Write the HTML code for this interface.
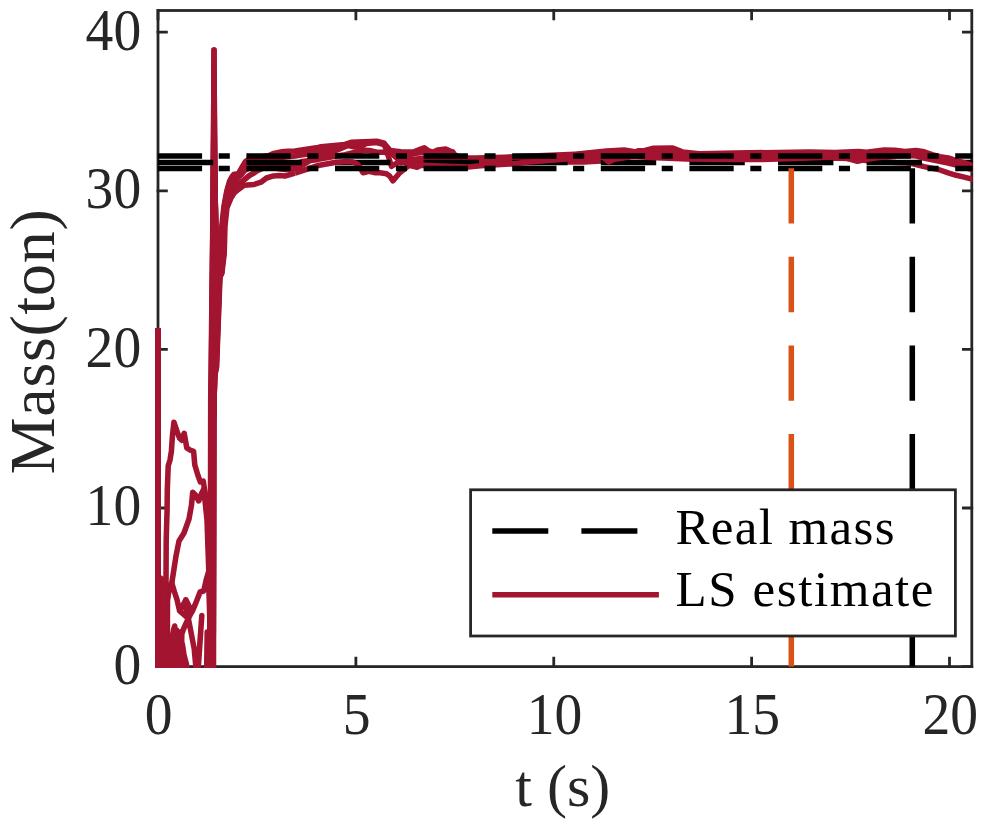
<!DOCTYPE html>
<html><head><meta charset="utf-8"><title>Mass estimate</title>
<style>html,body{margin:0;padding:0;background:#fff;overflow:hidden}svg{display:block}text{font-family:"Liberation Serif",serif;}</style></head><body>
<svg width="997" height="819" viewBox="0 0 997 819">
<rect x="0" y="0" width="997" height="819" fill="#ffffff"/>
<defs><clipPath id="ax"><rect x="154.80" y="9.10" width="817.80" height="659.00"/></clipPath></defs>
<g stroke="#262626" stroke-width="2.78" fill="none" stroke-linecap="square">
<rect x="158.00" y="10.50" width="813.80" height="656.10"/>
<path d="M158.00 666.60 v-8.40 M158.00 10.50 v8.40"/>
<path d="M355.88 666.60 v-8.40 M355.88 10.50 v8.40"/>
<path d="M553.75 666.60 v-8.40 M553.75 10.50 v8.40"/>
<path d="M751.62 666.60 v-8.40 M751.62 10.50 v8.40"/>
<path d="M949.50 666.60 v-8.40 M949.50 10.50 v8.40"/>
<path d="M158.00 666.60 h8.40 M971.80 666.60 h-8.40"/>
<path d="M158.00 508.00 h8.40 M971.80 508.00 h-8.40"/>
<path d="M158.00 349.40 h8.40 M971.80 349.40 h-8.40"/>
<path d="M158.00 190.80 h8.40 M971.80 190.80 h-8.40"/>
<path d="M158.00 32.20 h8.40 M971.80 32.20 h-8.40"/>
</g>
<g clip-path="url(#ax)" fill="none" stroke-linejoin="round">
<path d="M157.9 328.2 L158.0 675.0 L161.6 582.0 L164.4 675.0 L166.5 590.0 L167.2 675.0 L167.5 600.0 L169.5 586.0 L171.8 583.0 L176.0 556.0 L179.0 541.0 L184.0 533.0 L189.0 519.0 L191.5 505.0 L192.7 492.3 L195.5 495.0 L198.7 500.9 L201.3 494.0 L203.8 488.9 L207.0 520.0 L209.8 600.0 L210.6 675.0 L211.1 400.0 L213.4 175.0 L214.0 80.0 L214.7 170.0 L215.8 234.0 L217.3 278.0 L215.6 335.0 L213.6 420.0 L213.2 675.0 L213.2 675.0 L213.4 430.0 L214.1 378.0 L216.3 367.0 L219.7 277.0 L221.6 273.0 L223.6 254.0 L224.3 226.0 L226.0 206.0 L229.5 194.0 L234.0 186.5 L238.5 183.5 L243.9 180.0 L249.4 175.5 L254.3 172.8 L256.7 171.0 L262.9 168.3 L275.0 167.5 L295.0 164.0 L302.0 161.5 L318.2 159.4 L335.0 156.3 L345.0 154.8 L355.0 152.3 L365.0 150.3 L369.4 150.5 L376.7 152.3 L384.0 152.3 L392.0 153.5 L397.0 158.0 L401.0 163.0 L407.0 162.0 L424.0 161.0 L455.0 162.0 L468.0 162.5 L505.0 163.0 L560.0 162.1 L584.0 162.0 L601.0 161.0 L615.0 159.0 L633.0 156.0 L655.0 155.5 L690.0 156.5 L735.0 157.0 L800.0 156.0 L850.0 155.5 L890.0 153.5 L915.0 153.0 L930.0 157.0 L948.0 160.5 L964.0 164.8 L975.0 168.3" stroke="#A2142F" stroke-width="5.540" stroke-linecap="butt"/>
<path d="M157.9 328.2 L158.0 675.0 L160.0 675.0 L162.4 580.0 L165.0 675.0 L166.0 675.0 L167.0 600.0 L169.5 588.0 L171.8 583.0 L174.5 592.0 L177.0 599.6 L179.6 611.0 L188.3 618.3 L179.6 611.0 L182.5 606.0 L185.9 599.8 L186.6 612.0 L185.9 599.8 L189.0 606.0 L192.3 611.0 L195.0 605.0 L197.1 599.8 L200.1 592.0 L203.7 591.0 L206.2 579.8 L208.5 572.0 L209.8 620.0 L211.0 675.0 L211.5 400.0 L213.4 175.0 L214.0 110.0 L214.7 170.0 L215.8 234.0 L217.3 278.0 L215.6 335.0 L213.6 420.0 L213.2 675.0 L213.0 675.0 L213.2 430.0 L213.9 378.0 L216.1 367.0 L219.5 277.0 L221.4 273.0 L223.0 254.0 L223.6 226.0 L225.2 206.0 L228.5 190.0 L232.5 182.0 L237.5 178.0 L241.0 175.0 L244.5 170.5 L250.0 167.5 L256.0 166.0 L262.0 166.0 L270.0 167.5 L285.0 169.5 L295.0 168.5 L300.0 166.5 L310.0 160.5 L318.0 158.0 L335.0 151.0 L348.0 145.5 L355.0 147.0 L361.0 146.5 L366.0 143.5 L376.7 142.5 L384.0 144.5 L389.0 151.0 L395.0 156.5 L401.0 160.0 L407.0 159.5 L424.0 158.5 L455.0 160.0 L468.0 161.0 L505.0 161.0 L575.0 158.0 L607.0 156.0 L625.0 155.0 L650.0 154.0 L690.0 156.0 L735.0 156.5 L800.0 157.5 L850.0 158.5 L866.0 160.5 L880.0 161.5 L896.0 162.5 L905.0 162.7 L911.0 163.2 L920.0 165.5 L924.0 166.6 L938.5 169.5 L948.2 172.9 L956.2 175.3 L964.2 177.1 L975.0 179.8" stroke="#A2142F" stroke-width="5.540" stroke-linecap="butt"/>
<path d="M157.9 328.2 L158.0 675.0 L160.6 578.0 L163.2 675.0 L165.6 675.0 L166.2 540.0 L167.1 509.4 L167.3 490.0 L168.2 466.0 L170.0 460.0 L171.4 451.3 L172.5 435.0 L173.9 422.2 L177.4 432.5 L179.5 438.0 L181.6 440.2 L184.2 433.3 L186.8 447.9 L190.0 450.0 L193.6 451.3 L194.8 465.0 L197.9 475.2 L200.4 482.0 L203.3 481.2 L204.7 490.6 L206.4 506.0 L208.1 523.0 L209.6 580.0 L210.2 675.0 L210.7 400.0 L213.4 175.0 L214.0 50.0 L214.7 170.0 L215.8 234.0 L217.3 278.0 L215.6 335.0 L213.6 420.0 L213.2 675.0 L213.5 675.0 L213.7 430.0 L214.4 378.0 L216.6 367.0 L220.0 277.0 L221.9 273.0 L224.2 254.0 L225.0 226.0 L226.9 208.0 L231.0 198.0 L234.2 193.0 L238.7 189.2 L244.0 185.3 L254.3 184.4 L261.0 182.2 L266.5 178.0 L273.5 175.9 L280.0 175.6 L285.0 176.0 L295.0 173.2" stroke="#A2142F" stroke-width="5.540" stroke-linecap="butt"/>
<path d="M157.9 328.2 L158.0 675.0 L159.0 675.0 L172.6 675.0 L173.2 638.0 L174.2 675.0 L175.2 675.0 L176.5 630.0 L177.5 675.0 L179.8 675.0 L180.5 640.0 L182.5 645.0 L184.0 655.0 L186.4 664.0 L187.0 675.0 L209.0 675.0 L212.4 675.0 L212.9 400.0 L213.4 175.0 L214.0 50.0 L214.7 170.0 L215.8 234.0 L217.3 278.0 L215.6 335.0 L213.6 420.0 L213.2 675.0 L212.6 675.0 L212.8 430.0 L213.5 378.0 L215.7 367.0 L219.1 277.0 L221.0 273.0 L221.0 254.0 L221.8 226.0 L223.9 206.5 L226.5 192.5 L229.6 181.0 L231.0 178.5 L232.5 176.0 L234.0 174.2 L236.5 174.2 L238.5 173.5 L240.5 170.0 L242.5 166.4 L245.5 161.5 L248.0 159.8 L256.0 158.0 L269.0 155.5 L273.8 153.4 L282.0 151.8 L288.0 151.2 L295.0 150.9 L318.0 147.4 L321.0 146.8 L345.0 144.4 L351.1 142.3 L376.7 141.3 L384.1 143.2 L390.2 150.5 L395.0 151.1 L401.0 151.7 L413.3 152.0 L419.4 149.6 L424.3 147.8 L428.0 150.5 L432.9 152.3 L437.7 149.9 L445.7 149.0 L450.0 151.1 L452.9 152.0 L455.0 155.0 L460.0 157.0 L468.2 157.8 L475.5 158.1 L505.0 157.2 L575.0 154.3" stroke="#A2142F" stroke-width="5.540" stroke-linecap="butt"/>
<path d="M157.9 328.2 L158.0 675.0 L159.2 675.0 L170.5 675.0 L171.8 640.0 L173.5 630.0 L174.7 626.0 L176.5 675.0 L178.0 675.0 L179.0 632.0 L180.8 675.0 L181.2 675.0 L181.8 634.0 L183.5 629.0 L188.3 618.3 L192.3 611.0 L188.3 618.3 L194.2 648.7 L196.6 675.0 L197.6 675.0 L201.8 615.5 L197.8 675.0 L206.6 675.0 L207.2 632.0 L207.8 675.0 L209.6 675.0 L211.4 675.0 L211.9 400.0 L213.4 175.0 L214.0 140.0 L214.7 170.0 L215.8 234.0 L217.3 278.0 L215.6 335.0 L213.6 420.0 L213.2 675.0 L212.8 675.0 L213.0 430.0 L213.7 378.0 L215.9 367.0 L219.3 277.0 L221.2 273.0 L221.6 254.0 L222.4 226.0 L224.5 206.0 L227.6 189.0 L231.5 178.5 L236.5 175.5 L240.5 171.0 L243.5 166.0 L246.5 162.5 L250.0 161.5 L258.0 160.0 L270.0 159.0 L285.0 157.0 L295.0 156.0 L318.2 152.3 L335.0 148.0 L348.1 144.7 L360.0 143.0 L366.0 142.5 L376.7 141.8 L384.0 143.5 L388.0 155.0 L391.4 166.3 L396.0 163.5 L401.0 162.0 L407.0 157.0 L413.0 153.5 L424.0 152.5 L440.0 153.0 L452.0 153.5 L457.0 157.5 L468.0 160.0 L505.0 159.5 L575.0 156.5" stroke="#A2142F" stroke-width="5.540" stroke-linecap="butt"/>
<path d="M157.80 162.55 H973.80" stroke="#000" stroke-width="5.540" stroke-dasharray="55.4 33.2"/>
<path d="M295.0 173.2 L318.2 165.5 L334.7 162.5 L347.0 161.5 L353.0 162.0 L357.2 163.9 L360.3 167.9 L363.0 172.7 L369.0 171.2 L375.5 172.7 L380.0 172.7 L386.5 173.7 L389.6 176.0 L393.0 180.8 L397.0 176.0 L400.0 172.5 L405.0 168.5 L409.0 165.3 L413.3 166.3 L417.0 167.2 L420.6 165.5 L425.0 165.3 L440.0 166.0 L455.0 166.4 L468.2 167.0 L475.5 166.3 L484.0 165.4 L505.0 164.2 L512.0 163.9 L526.0 162.3 L567.5 159.0 L601.0 156.5 L604.0 158.0 L608.7 162.0 L614.3 159.2 L624.2 157.8 L632.6 156.4 L655.9 157.7 L687.2 158.9 L735.0 159.5 L760.0 159.5 L802.0 158.3 L832.3 157.1 L835.0 156.8 L844.0 156.8 L847.6 158.5 L854.0 160.3 L857.5 161.3 L861.7 160.3 L866.6 159.2 L877.0 157.8 L887.7 156.8 L894.7 156.1 L911.2 155.5 L916.0 155.9 L922.5 157.9 L932.1 159.9 L948.2 163.1 L964.2 167.0 L975.0 170.8" stroke="#A2142F" stroke-width="5.540" stroke-linecap="butt"/>
<path d="M575.0 154.3 L606.6 151.1 L624.2 150.1 L633.3 151.5 L634.7 152.5 L638.2 150.8 L645.0 150.4 L653.5 148.3 L672.8 148.0 L682.4 151.9 L699.3 153.7 L735.0 153.1 L809.4 151.9 L835.0 152.5 L858.2 151.5 L866.6 152.2 L884.2 150.1 L894.7 150.3 L905.0 151.5 L916.0 150.6 L924.1 151.8 L932.1 154.7 L940.1 156.7 L948.2 157.9 L956.2 160.7 L964.2 162.7 L975.0 166.2" stroke="#A2142F" stroke-width="5.540" stroke-linecap="butt"/>
<path d="M575.0 156.5 L607.0 153.5 L625.0 152.5 L650.0 151.5 L672.0 150.5 L683.0 153.5 L700.0 155.0 L735.0 155.0 L809.0 154.0 L850.0 153.8 L885.0 152.5 L905.0 153.5 L916.0 153.0 L924.0 154.5 L932.0 157.0 L948.0 160.5 L964.0 164.8 L975.0 168.3" stroke="#A2142F" stroke-width="5.540" stroke-linecap="butt"/>
<path d="M157.80 156.00 H973.80" stroke="#000" stroke-width="5.540" stroke-dasharray="44.3 16.6 11.1 16.6"/>
<path d="M157.80 168.40 H973.80" stroke="#000" stroke-width="5.540" stroke-dasharray="44.3 16.6 11.1 16.6"/>
<path d="M791.3 666.60 V168.3" stroke="#D95319" stroke-width="5.540" stroke-dasharray="55.4 33.2"/>
<path d="M912.3 666.60 V168.3" stroke="#000" stroke-width="5.540" stroke-dasharray="55.4 33.2"/>
</g>
<g fill="#262626" font-size="55.6px">
<text transform="translate(158.70 734.3) scale(1 1.05)" text-anchor="middle">0</text>
<text transform="translate(356.57 734.3) scale(1 1.05)" text-anchor="middle">5</text>
<text transform="translate(554.45 734.3) scale(1 1.05)" text-anchor="middle">10</text>
<text transform="translate(752.33 734.3) scale(1 1.05)" text-anchor="middle">15</text>
<text transform="translate(950.20 734.3) scale(1 1.05)" text-anchor="middle">20</text>
<text transform="translate(141.2 683.90) scale(1 1.05)" text-anchor="end">0</text>
<text transform="translate(141.2 525.30) scale(1 1.05)" text-anchor="end">10</text>
<text transform="translate(141.2 366.70) scale(1 1.05)" text-anchor="end">20</text>
<text transform="translate(141.2 208.10) scale(1 1.05)" text-anchor="end">30</text>
<text transform="translate(141.2 49.50) scale(1 1.05)" text-anchor="end">40</text>
</g>
<text x="562.8" y="806.4" text-anchor="middle" font-size="60px" fill="#262626">t (s)</text>
<text transform="translate(53.5 341.4) rotate(-90)" text-anchor="middle" font-size="64px" letter-spacing="0.7" fill="#262626">Mass(ton)</text>
<rect x="470.6" y="489.8" width="484.8" height="146.2" fill="#fff" stroke="#262626" stroke-width="2.78"/>
<path d="M492.3 531 H658.9" stroke="#000" stroke-width="5.540" stroke-dasharray="56 33.1" fill="none"/>
<path d="M492.3 594.8 H658.9" stroke="#A2142F" stroke-width="5.540" fill="none"/>
<g fill="#000" font-size="51px">
<text x="675.5" y="543.6" textLength="219" lengthAdjust="spacing">Real mass</text>
<text x="675.5" y="605.9" textLength="258" lengthAdjust="spacing">LS estimate</text>
</g>
</svg></body></html>
